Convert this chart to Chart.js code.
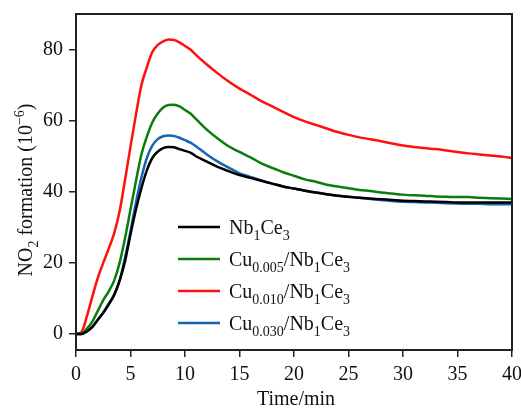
<!DOCTYPE html>
<html>
<head>
<meta charset="utf-8">
<script src="https://cdn.jsdelivr.net/npm/chart.js@4.4.1/dist/chart.umd.min.js"></script>
<style>
  body { margin: 0; background: #fff; }
</style>
</head>
<body>
<canvas id="no2Chart" width="521" height="410"></canvas>
<script>
// Time axis (min) shared by all series
const timeMin = [0, 0.5, 1, 1.5, 2, 2.5, 3, 3.5, 4, 4.5, 5, 5.5, 6, 6.5, 7, 7.5, 8, 8.5, 9, 9.5, 10, 10.5, 11,
    12, 13, 14, 15, 16, 17, 18, 19, 20, 21, 22, 23, 24, 25, 26, 27, 28, 29, 30, 31, 32, 33, 34, 35, 36, 37, 38, 39, 40];

// NO2 formation (10^-6)
const nb1ce3 = [0, 0, 0.7, 2, 4, 6, 8.3, 11, 15, 20.5, 28, 35, 41, 46, 49.5, 51.3, 52.3, 52.6, 52.5, 52, 51.5, 51, 50,
    48.5, 47, 45.8, 44.7, 43.9, 43.1, 42.3, 41.5, 40.9, 40.3, 39.8, 39.3, 38.9, 38.6, 38.3, 38.1, 37.9, 37.7, 37.5, 37.4, 37.3, 37.2, 37.1, 37, 37, 37, 37, 37, 37];
const cu005 = [0, 0, 1.5, 3.5, 6.5, 9.5, 12, 15, 20, 27, 35, 43, 50.5, 55.5, 59.5, 62, 63.7, 64.4, 64.5, 64, 63, 62, 60.5,
    57.5, 55, 52.8, 51.2, 49.7, 48, 46.7, 45.5, 44.5, 43.5, 42.8, 42, 41.5, 41, 40.5, 40.2, 39.8, 39.5, 39.2, 39, 38.9, 38.7, 38.6, 38.5, 38.5, 38.3, 38.2, 38.1, 38];
const cu010 = [0, 0.5, 5, 10.5, 15.8, 20, 24, 28.3, 34.5, 43.4, 52.7, 61.7, 70, 75, 79.3, 81.3, 82.3, 82.8, 82.7, 82, 81, 80, 78.5,
    75.8, 73.3, 71, 69, 67.3, 65.5, 64, 62.5, 61, 59.8, 58.8, 57.8, 56.8, 56, 55.3, 54.8, 54.2, 53.6, 53, 52.6, 52.3, 52, 51.6, 51.2, 50.8, 50.5, 50.2, 49.9, 49.5];
const cu030 = [0, 0, 0.7, 2, 4, 6, 8.5, 11, 15, 21.5, 29, 37, 44, 49.5, 53, 54.8, 55.6, 55.8, 55.7, 55.2, 54.5, 53.8, 52.8,
    50.5, 48.5, 46.8, 45.2, 44.2, 43.2, 42.3, 41.5, 40.9, 40.3, 39.8, 39.3, 38.9, 38.6, 38.3, 38, 37.7, 37.4, 37.2, 37.1, 37, 36.9, 36.8, 36.7, 36.6, 36.6, 36.5, 36.5, 36.5];

const xTicks = [0, 5, 10, 15, 20, 25, 30, 35, 40];
const yTicks = [0, 20, 40, 60, 80];

// Legend labels with subscripts: [text, 'n' | 'sub' | 'sup']
const seriesLabels = [
    [['Nb', 'n'], ['1', 'sub'], ['Ce', 'n'], ['3', 'sub']],
    [['Cu', 'n'], ['0.005', 'sub'], ['/Nb', 'n'], ['1', 'sub'], ['Ce', 'n'], ['3', 'sub']],
    [['Cu', 'n'], ['0.010', 'sub'], ['/Nb', 'n'], ['1', 'sub'], ['Ce', 'n'], ['3', 'sub']],
    [['Cu', 'n'], ['0.030', 'sub'], ['/Nb', 'n'], ['1', 'sub'], ['Ce', 'n'], ['3', 'sub']]
];
const seriesValues = [nb1ce3, cu005, cu010, cu030];
const seriesColors = ['#000000', '#0b7d0b', '#ff1010', '#1565b0'];

const SERIF = '"Liberation Serif", "Times New Roman", serif';

function richWidth(ctx, parts) {
    let w = 0;
    parts.forEach(([txt, kind]) => {
        ctx.font = (kind === 'n' ? 20 : 14) + 'px ' + SERIF;
        w += ctx.measureText(txt).width;
    });
    return w;
}

function drawRich(ctx, parts, x, y) {
    let cx = x;
    parts.forEach(([txt, kind]) => {
        ctx.font = (kind === 'n' ? 20 : 14) + 'px ' + SERIF;
        const dy = kind === 'sub' ? 5.5 : (kind === 'sup' ? -8 : 0);
        ctx.fillText(txt, cx, y + dy);
        cx += ctx.measureText(txt).width;
    });
}

// Frame, axis titles and legend drawn by hand (sub/superscripts)
const decorations = {
    id: 'decorations',
    afterDraw(chart) {
        const ctx = chart.ctx;
        const a = chart.chartArea;
        ctx.save();
        ctx.strokeStyle = '#222';
        ctx.lineWidth = 2;
        ctx.strokeRect(a.left, a.top, a.right - a.left, a.bottom - a.top);

        ctx.fillStyle = '#111';
        ctx.textAlign = 'left';
        ctx.textBaseline = 'alphabetic';

        // x title
        const xt = [['Time/min', 'n']];
        drawRich(ctx, xt, (a.left + a.right) / 2 - richWidth(ctx, xt) / 2 + 2, 405);

        // y title
        const yt = [['NO', 'n'], ['2', 'sub'], [' formation (10', 'n'], ['\u22126', 'sup'], [')', 'n']];
        const w = richWidth(ctx, yt);
        ctx.save();
        ctx.translate(32, 190 + w / 2);
        ctx.rotate(-Math.PI / 2);
        drawRich(ctx, yt, 0, 0);
        ctx.restore();

        // legend
        const rowsY = [227, 259, 291, 323];
        seriesLabels.forEach((parts, i) => {
            ctx.strokeStyle = seriesColors[i];
            ctx.lineWidth = 2.5;
            ctx.beginPath();
            ctx.moveTo(178, rowsY[i]);
            ctx.lineTo(220, rowsY[i]);
            ctx.stroke();
            ctx.fillStyle = '#111';
            drawRich(ctx, parts, 229, rowsY[i] + 7.3);
        });
        ctx.restore();
    }
};

const data = {
    datasets: seriesValues.map((vals, i) => ({
        label: seriesLabels[i].map(p => p[0]).join(''),
        data: timeMin.map((t, j) => ({ x: t, y: vals[j] })),
        borderColor: seriesColors[i],
        backgroundColor: seriesColors[i],
        borderWidth: 2.5,
        pointRadius: 0,
        cubicInterpolationMode: 'monotone',
        fill: false
    }))
};

const axisGrid = { drawOnChartArea: false, tickLength: 7, color: '#222', lineWidth: 1.5, tickWidth: 1.5 };
const axisBorder = { color: '#222', width: 2 };

const conf = {
    type: 'line',
    data: data,
    options: {
        responsive: false,
        animation: false,
        layout: { padding: { left: 0, right: 9, top: 14, bottom: 0 } },
        plugins: {
            legend: { display: false },
            tooltip: { enabled: false }
        },
        scales: {
            x: {
                type: 'linear',
                min: 0,
                max: 40,
                grid: axisGrid,
                border: axisBorder,
                ticks: { font: { family: SERIF, size: 20 }, color: '#111', padding: 6, maxRotation: 0 },
                afterBuildTicks: (s) => { s.ticks = xTicks.map(v => ({ value: v })); },
                afterFit: (s) => { s.height = 60; s.paddingLeft = 0; s.paddingRight = 0; }
            },
            y: {
                type: 'linear',
                min: -4.5,
                max: 90,
                grid: axisGrid,
                border: axisBorder,
                ticks: { font: { family: SERIF, size: 20 }, color: '#111', padding: 6 },
                afterBuildTicks: (s) => { s.ticks = yTicks.map(v => ({ value: v })); },
                afterFit: (s) => { s.width = 76; s.paddingTop = 0; s.paddingBottom = 0; }
            }
        }
    },
    plugins: [decorations]
};

const no2Chart = new Chart(document.getElementById('no2Chart'), conf);
</script>
</body>
</html>
